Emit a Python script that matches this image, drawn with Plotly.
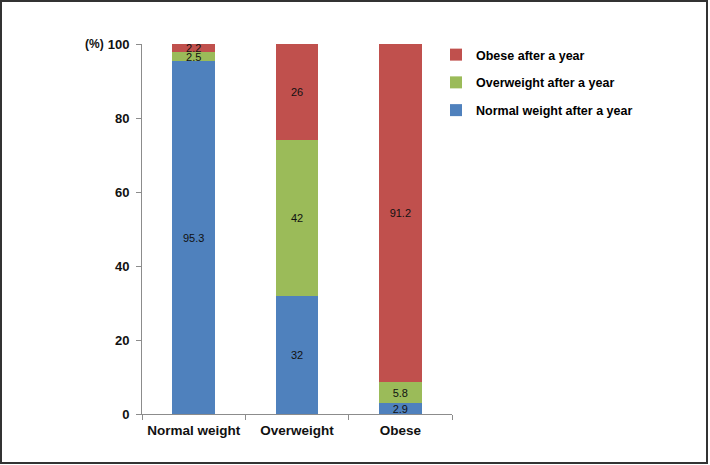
import plotly.graph_objects as go

categories = ["Normal weight", "Overweight", "Obese"]
normal_after = [95.3, 32, 2.9]
overweight_after = [2.5, 42, 5.8]
obese_after = [2.2, 26, 91.2]
series_names = ["Normal weight after a year", "Overweight after a year", "Obese after a year"]
colors = ["#4F81BD", "#9BBB59", "#C0504D"]
y_ticks = [0, 20, 40, 60, 80, 100]

W, H = 710, 465
L, R, T, B = 142, 258, 44, 51
pw, ph = W - L - R, H - T - B

fig = go.Figure()
for i, (name, vals, c) in enumerate(zip(series_names, [normal_after, overweight_after, obese_after], colors)):
    fig.add_trace(go.Bar(
        x=categories, y=vals, name=name, marker=dict(color=c, line=dict(width=0)),
        text=[str(v) for v in vals], textposition="inside", insidetextanchor="middle",
        textfont=dict(family="Arial, Liberation Sans", size=11, color="#111111"),
        legendgroup=str(i), legendrank=3 - i,
    ))

fig.update_layout(
    barmode="stack", bargap=0.59,
    width=W, height=H,
    margin=dict(l=L, r=R, t=T, b=B, autoexpand=False),
    paper_bgcolor="white", plot_bgcolor="white",
    uniformtext=dict(minsize=11, mode="show"),
    font=dict(family="Arial, Liberation Sans", color="#000000"),
    legend=dict(
        traceorder="grouped", tracegroupgap=8.5,
        x=(436 - L) / pw, y=(H - 40 - B) / ph, xanchor="left", yanchor="top",
        font=dict(size=12.5, family="Arial, Liberation Sans", color="#000000", weight="bold"),
        itemwidth=30, bgcolor="rgba(0,0,0,0)",
    ),
    xaxis=dict(
        showline=True, linecolor="#8c8c8c", linewidth=1,
        ticks="outside", tickson="boundaries", ticklen=5, tickcolor="#8c8c8c",
        tickangle=0, automargin=False, ticklabelstandoff=4,
        tickfont=dict(size=13.5, family="Arial, Liberation Sans", color="#111111", weight="bold"),
        showgrid=False,
    ),
    yaxis=dict(
        range=[0, 100], tickvals=y_ticks, ticktext=[str(v) for v in y_ticks],
        showline=True, linecolor="#8c8c8c", linewidth=1, automargin=False,
        ticks="outside", ticklen=5, tickcolor="#8c8c8c", ticklabelstandoff=4,
        tickfont=dict(size=13, family="Arial, Liberation Sans", color="#111111", weight="bold"),
        showgrid=False, zeroline=False,
    ),
)

fig.add_annotation(
    text="(%)", xref="paper", yref="y", x=(106 - L) / pw, y=100,
    xanchor="right", yanchor="middle", showarrow=False,
    font=dict(size=12, family="Arial, Liberation Sans", color="#111111", weight="bold"),
)

fig.add_shape(
    type="rect", xref="paper", yref="paper",
    x0=(1 - L) / pw, x1=(707 - L) / pw,
    y0=(H - B - 463) / ph, y1=(H - B - 1) / ph,
    line=dict(color="#333333", width=2), fillcolor="rgba(0,0,0,0)", layer="above",
)

fig.write_html(
    "out.html",
    config={"displayModeBar": False},
    post_script="document.body.style.margin='0';document.body.style.overflow='hidden';",
)
